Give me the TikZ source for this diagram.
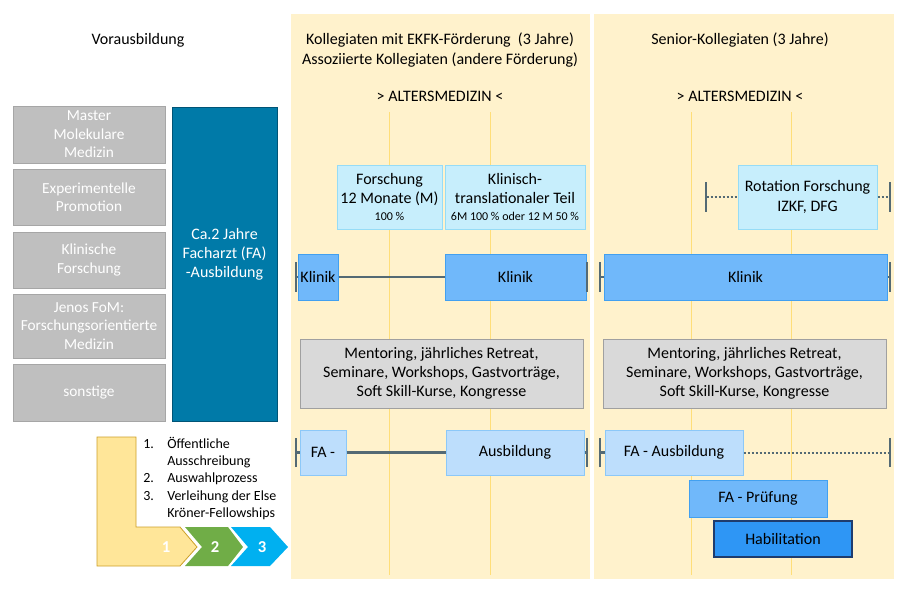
\documentclass[tikz,border=0pt]{standalone}
\usepackage{fontspec}
\setmainfont{Carlito}
\usetikzlibrary{arrows.meta}
\usepackage{xcolor}
\definecolor{ColPanel}{RGB}{255,242,204}
\definecolor{ColGrid}{RGB}{255,222,120}
\definecolor{ColPre}{RGB}{191,191,191}
\definecolor{ColPreLine}{RGB}{166,166,166}
\definecolor{ColFA}{RGB}{0,122,168}
\definecolor{ColFALine}{RGB}{0,84,118}
\definecolor{ColCyan}{RGB}{199,238,252}
\definecolor{ColCyanLine}{RGB}{150,220,246}
\definecolor{ColKlinik}{RGB}{112,184,250}
\definecolor{ColKlinikLine}{RGB}{66,160,240}
\definecolor{ColLight}{RGB}{189,222,252}
\definecolor{ColLightLine}{RGB}{140,200,248}
\definecolor{ColHabil}{RGB}{46,150,245}
\definecolor{ColHabilLine}{RGB}{30,60,110}
\definecolor{ColMent}{RGB}{217,217,217}
\definecolor{ColMentLine}{RGB}{160,160,160}
\definecolor{ColLine}{RGB}{84,106,116}
\definecolor{ColStepA}{RGB}{255,230,153}
\definecolor{ColStepALine}{RGB}{204,160,40}
\definecolor{ColStepB}{RGB}{112,173,71}
\definecolor{ColStepC}{RGB}{0,176,240}
\newcommand{\BodyFont}{\fontsize{12}{14.4}\selectfont}
\newcommand{\SmallFont}{\fontsize{9}{11}\selectfont}
\tikzset{BoxSize/.style 2 args={minimum width=#1*0.75pt,minimum height=#2*0.75pt}}
\tikzstyle{HeadText}=[align=center,inner sep=0pt,font=\BodyFont]
\tikzstyle{PreBox}=[draw=ColPreLine,fill=ColPre,line width=0.75pt,text=white,align=center,inner sep=0pt,
font=\fontsize{11.5}{13.9}\selectfont]
\tikzstyle{FABox}=[draw=ColFALine,fill=ColFA,line width=0.75pt,inner sep=0pt]
\tikzstyle{FAText}=[text=white,align=center,inner sep=0pt,font=\fontsize{12}{14.2}\selectfont]
\tikzstyle{CyanBox}=[draw=ColCyanLine,fill=ColCyan,line width=0.75pt,align=center,inner sep=0pt,font=\BodyFont]
\tikzstyle{KlinikBox}=[draw=ColKlinikLine,fill=ColKlinik,line width=0.75pt,align=center,inner sep=0pt,font=\BodyFont]
\tikzstyle{LightBox}=[draw=ColLightLine,fill=ColLight,line width=0.75pt,align=center,inner sep=0pt,font=\BodyFont]
\tikzstyle{HabilBox}=[draw=ColHabilLine,fill=ColHabil,line width=1pt,align=center,inner sep=0pt,font=\BodyFont]
\tikzstyle{MentBox}=[draw=ColMentLine,fill=ColMent,line width=0.75pt,align=center,inner sep=0pt,font=\BodyFont]
\tikzstyle{GridLine}=[ColGrid,line width=0.5pt]
\tikzstyle{TimeLine}=[ColLine,line width=1.6pt]
\tikzstyle{DotLine}=[ColLine,line width=1.5pt,dash pattern=on 1.5pt off 1.5pt]
\tikzstyle{StepNum}=[text=white,inner sep=0pt,font=\fontsize{12.5}{14}\bfseries]

\begin{document}
\begin{tikzpicture}[x=0.75pt,y=-0.75pt]
        \useasboundingbox (0,0) rectangle (908,593);
        % Hintergrund der beiden Phasen
        \fill[ColPanel] (291,14) rectangle (590,579);
        \fill[ColPanel] (594,14) rectangle (894,579);
        \foreach \x in {389,490,691,791}
            \draw[GridLine] (\x,112) -- (\x,575);
        % Ueberschriften
        \node[HeadText](vor)at(138,40){Vorausbildung};
        \node[HeadText](kol)at(440,50){Kollegiaten mit EKFK-Förderung\ \ (3 Jahre)\\Assoziierte Kollegiaten (andere Förderung)};
        \node[HeadText](sen)at(740,40){Senior-Kollegiaten (3 Jahre)};
        \node[HeadText](altA)at(440,96){> ALTERSMEDIZIN <};
        \node[HeadText](altB)at(740,96){> ALTERSMEDIZIN <};
        % Vorausbildung
        \node[PreBox,BoxSize={152}{57}](preA)at(89,134.5){Master\\Molekulare\\Medizin};
        \node[PreBox,BoxSize={152}{56}](preB)at(89,197){Experimentelle\\Promotion};
        \node[PreBox,BoxSize={152}{56}](preC)at(89,260){Klinische\\Forschung};
        \node[PreBox,BoxSize={152}{64}](preD)at(89,326){Jenos FoM:\\Forschungsorientierte\\Medizin};
        \node[PreBox,BoxSize={152}{57}](preE)at(89,392.5){sonstige};
        \node[FABox,BoxSize={105}{314}](fa)at(224.5,264){};
        \node[FAText](faText)at(224.5,254){Ca.2 Jahre\\Facharzt (FA)\\-Ausbildung};
        % Forschung
        \node[CyanBox,BoxSize={105}{64}](fo)at(389.5,197){Forschung\\12 Monate (M)\\[-2pt]{\SmallFont 100 \%}};
        \node[CyanBox,BoxSize={140}{64}](kt)at(515,197){Klinisch-\\translationaler Teil\\[-2pt]{\SmallFont 6M 100 \% oder 12 M 50 \%}};
        \node[CyanBox,BoxSize={139}{64}](rf)at(807.5,197){Rotation Forschung\\IZKF, DFG};
        \coordinate(rfA)at(705,197);
        \coordinate(rfB)at(891,197);
        \draw[DotLine,{Bar[width=22pt]}-](rfA)--(rf.west);
        \draw[DotLine,-{Bar[width=22pt]}](rf.east)--(rfB);
        % Klinik
        \node[KlinikBox,BoxSize={40}{46}](klA)at(318,277){Klinik};
        \node[KlinikBox,BoxSize={141}{46}](klB)at(515.5,277){Klinik};
        \node[KlinikBox,BoxSize={283}{46}](klC)at(745.5,277){Klinik};
        \coordinate(tkA)at(295,277);
        \coordinate(tkB)at(588,277);
        \coordinate(tkC)at(599,277);
        \coordinate(tkD)at(891,277);
        \draw[TimeLine,{Bar[width=22pt]}-](tkA)--(klA.west);
        \draw[TimeLine](klA.east)--(klB.west);
        \draw[TimeLine,-{Bar[width=22pt]}](klB.east)--(tkB);
        \draw[TimeLine,{Bar[width=22pt]}-](tkC)--(klC.west);
        \draw[TimeLine,-{Bar[width=22pt]}](klC.east)--(tkD);
        % Begleitprogramm
        \node[MentBox,BoxSize={283}{69}](meA)at(441.5,373.5){Mentoring, jährliches Retreat,\\Seminare, Workshops, Gastvorträge,\\Soft Skill-Kurse, Kongresse};
        \node[MentBox,BoxSize={283}{69}](meB)at(744.5,373.5){Mentoring, jährliches Retreat,\\Seminare, Workshops, Gastvorträge,\\Soft Skill-Kurse, Kongresse};
        % Facharzt
        \node[LightBox,BoxSize={46}{45}](faA)at(323,452.5){FA -};
        \node[LightBox,BoxSize={138}{45}](faB)at(515,452.5){Ausbildung};
        \node[LightBox,BoxSize={138}{45}](faC)at(674,452.5){FA - Ausbildung};
        \node[KlinikBox,BoxSize={138}{37}](pr)at(758,498.5){FA - Prüfung};
        \node[HabilBox,BoxSize={138}{36}](hab)at(783,539){Habilitation};
        \coordinate(tfA)at(295,452.5);
        \coordinate(tfB)at(588,452.5);
        \coordinate(tfC)at(599,452.5);
        \coordinate(tfD)at(891,452.5);
        \draw[TimeLine,{Bar[width=22pt]}-](tfA)--(faA.west);
        \draw[TimeLine](faA.east)--(faB.west);
        \draw[TimeLine,-{Bar[width=22pt]}](faB.east)--(tfB);
        \draw[TimeLine,{Bar[width=22pt]}-](tfC)--(faC.west);
        \draw[DotLine,-{Bar[width=22pt]}](faC.east)--(tfD);
        % Auswahlverfahren
        \draw[fill=ColStepA,draw=ColStepALine,line width=0.6pt](97,437)--(136,437)--(136,527)--(180,527)
            --(197,547)--(180,566)--(97,566)--cycle;
        \fill[ColStepB](185,527)--(228,527)--(243,547)--(228,566)--(185,566)--(202,547)--cycle;
        \fill[ColStepC](231,527)--(270,527)--(288,547)--(270,566)--(231,566)--(248,547)--cycle;
        \node[StepNum](stA)at(166,547){1};
        \node[StepNum](stB)at(215,547){2};
        \node[StepNum](stC)at(262,547){3};
        \node[anchor=west,inner sep=0pt,font=\fontsize{10.5}{12.9}\selectfont](list)at(143,479.5){%
            \begin{tabular}{@{}p{18pt}@{}l@{}}
            1.&Öffentliche\\
            &Ausschreibung\\
            2.&Auswahlprozess\\
            3.&Verleihung der Else\\
            &Kröner-Fellowships
            \end{tabular}};
    \end{tikzpicture}
\end{document}
